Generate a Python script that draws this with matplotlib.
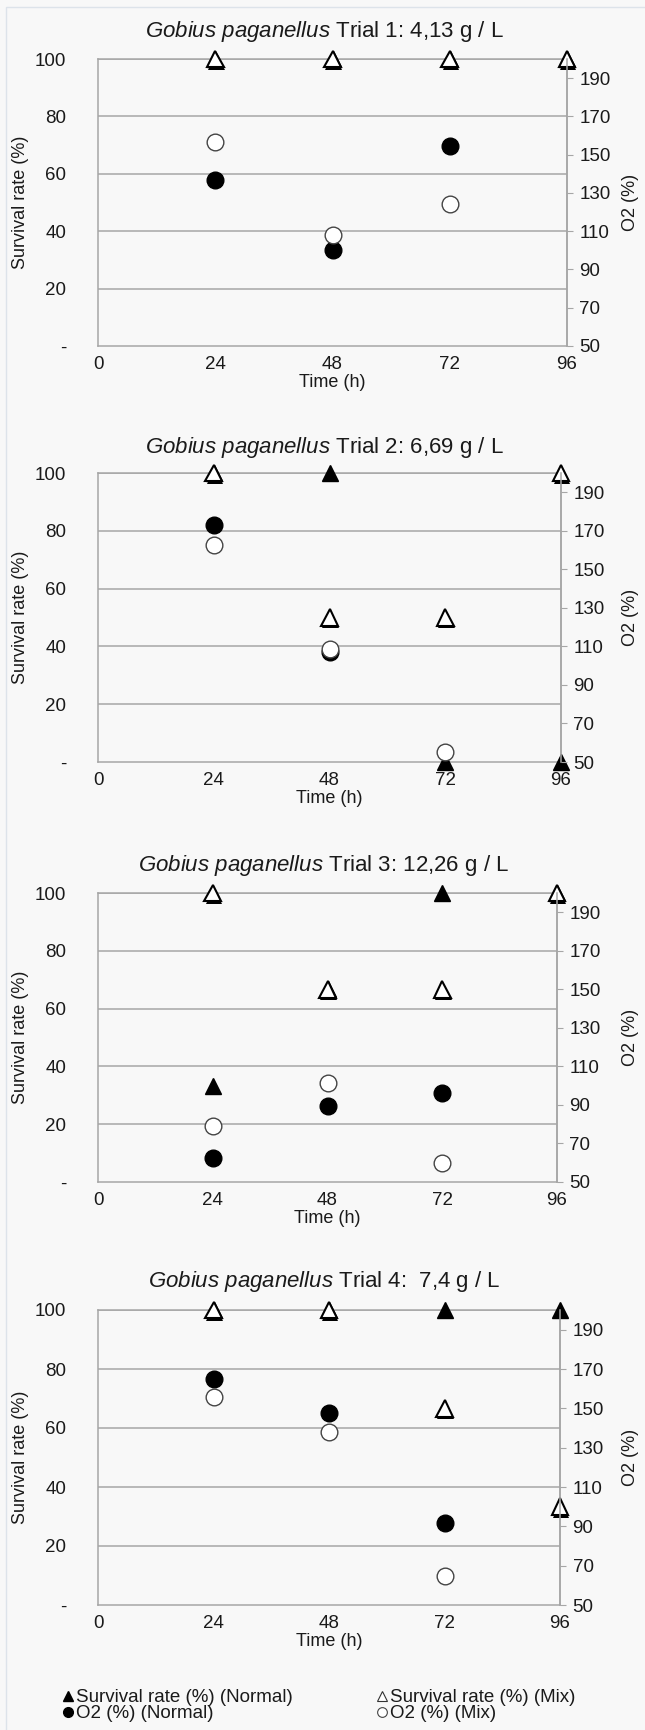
import matplotlib.pyplot as plt
import matplotlib.patheffects as pe
from matplotlib.lines import Line2D

plt.rcParams['font.family'] = ['Liberation Sans', 'DejaVu Sans']
plt.rcParams['mathtext.fontset'] = 'custom'
plt.rcParams['mathtext.it'] = 'Liberation Sans:italic'
plt.rcParams['mathtext.rm'] = 'Liberation Sans'

# data
hours = [24, 48, 72, 96]
o2_hours = [24, 48, 72]
trials = ['1', '2', '3', '4']
concentrations = ['4,13', '6,69', '12,26', ' 7,4']
surv_normal = [[100, 100, 100, 100],
               [100, 100, 0, 0],
               [33.3, 66.7, 100, 100],
               [100, 100, 100, 100]]
surv_mix = [[100, 100, 100, 100],
            [100, 50, 50, 100],
            [100, 66.7, 66.7, 100],
            [100, 100, 66.7, 33.3]]
o2_normal = [[137, 100, 154.7],
             [173, 107.3, float('nan')],
             [62.4, 89.3, 96.1],
             [164.7, 147.8, 91.5]]
o2_mix = [[156.8, 107.8, 124.4],
          [162.6, 108.4, 55.2],
          [79.2, 101.3, 59.8],
          [155.6, 137.8, 64.7]]

surv_ticks = [0, 20, 40, 60, 80, 100]
surv_ticklabels = ['-', '20', '40', '60', '80', '100']
o2_ticks = [50, 70, 90, 110, 130, 150, 170, 190]
x_ticks = [0, 24, 48, 72, 96]

W, H = 645, 1730
# panel boxes in pixels: left, right, top, bottom
boxes = [(98, 567, 59, 346),
         (98, 561, 473, 762),
         (98, 557, 893, 1182),
         (98, 560, 1310, 1605)]
title_y = [31, 447, 865, 1281]

grey = '#a6a6a6'
bg = '#f8f8f8'
txt = '#1a1a1a'

fig = plt.figure(figsize=(W / 100, H / 100), dpi=100)
fig.patch.set_facecolor(bg)
fig.add_artist(plt.Rectangle((6 / W, -0.01), 1.0, 1 - 7 / H + 0.01, transform=fig.transFigure,
                             facecolor='none', edgecolor='#dde3ea', lw=1))

shadow = [pe.SimplePatchShadow(offset=(0.8, -1.8), shadow_rgbFace='black', alpha=1.0), pe.Normal()]

for i in range(4):
    l, r, t, b = boxes[i]
    ax = fig.add_axes([l / W, 1 - b / H, (r - l) / W, (b - t) / H])
    ax.set_facecolor('none')
    ax.set_xlim(0, 96)
    ax.set_ylim(0, 100)
    ax.set_xticks(x_ticks)
    ax.set_yticks(surv_ticks)
    ax.set_yticklabels(surv_ticklabels)
    ax.tick_params(axis='both', length=0, labelsize=13.5, labelcolor=txt)
    ax.tick_params(axis='y', pad=23)
    ax.tick_params(axis='x', pad=7)
    for y in surv_ticks[1:]:
        ax.axhline(y, color=grey, lw=1.1, zorder=0)
    for s in ax.spines.values():
        s.set_color(grey)
        s.set_linewidth(1.1)
    ax.set_xlabel('Time (h)', fontsize=13, color=txt, labelpad=1)
    ax.set_ylabel('Survival rate (%)', fontsize=13, color=txt)
    ax.yaxis.set_label_coords((29 - l) / (r - l), 0.5)

    ax.plot(hours, surv_normal[i], linestyle='none', marker='^', ms=12,
            mfc='black', mec='black', clip_on=False, zorder=3)
    ax.plot(hours, surv_mix[i], linestyle='none', marker='^', ms=12, mew=1.5,
            mfc='white', mec='black', clip_on=False, zorder=4, path_effects=shadow)

    ax2 = ax.twinx()
    ax2.set_ylim(50, 200)
    ax2.set_yticks(o2_ticks)
    ax2.tick_params(axis='y', length=4, color=grey, labelsize=13.5, labelcolor=txt, pad=5)
    for s in ax2.spines.values():
        s.set_visible(False)
    ax2.spines['right'].set_visible(True)
    ax2.spines['right'].set_color(grey)
    ax2.spines['right'].set_linewidth(1.1)
    ax2.set_ylabel('O2 (%)', fontsize=13, color=txt)
    ax2.yaxis.set_label_coords(1 + (622 - r) / (r - l), 0.5)
    ax2.plot(o2_hours, o2_normal[i], linestyle='none', marker='o', ms=12,
             mfc='black', mec='black', clip_on=False)
    ax2.plot(o2_hours, o2_mix[i], linestyle='none', marker='o', ms=12, mew=1,
             mfc='white', mec='#444444', clip_on=False)

    fig.text(324 / W, 1 - title_y[i] / H,
             r'$\it{Gobius\ paganellus}$ Trial ' + trials[i] + ': ' + concentrations[i] + ' g / L',
             ha='center', va='center', fontsize=16, color=txt)

h_sn = Line2D([], [], linestyle='none', marker='^', ms=7, mfc='black', mec='black')
h_sm = Line2D([], [], linestyle='none', marker='^', ms=7, mfc='white', mec='#333333', mew=0.8)
h_on = Line2D([], [], linestyle='none', marker='o', ms=7, mfc='black', mec='black')
h_om = Line2D([], [], linestyle='none', marker='o', ms=7, mfc='white', mec='#444444', mew=0.8)

fig.legend([h_sn, h_on], ['Survival rate (%) (Normal)', 'O2 (%) (Normal)'],
           loc='upper left', bbox_to_anchor=(53 / W, 1 - 1680 / H), frameon=False,
           fontsize=13.5, labelcolor=txt, handlelength=0.6, handletextpad=0.15,
           labelspacing=-0.08, borderpad=0)
fig.legend([h_sm, h_om], ['Survival rate (%) (Mix)', 'O2 (%) (Mix)'],
           loc='upper left', bbox_to_anchor=(367 / W, 1 - 1680 / H), frameon=False,
           fontsize=13.5, labelcolor=txt, handlelength=0.6, handletextpad=0.15,
           labelspacing=-0.08, borderpad=0)

fig.savefig('out.png', dpi=100, facecolor=bg)
